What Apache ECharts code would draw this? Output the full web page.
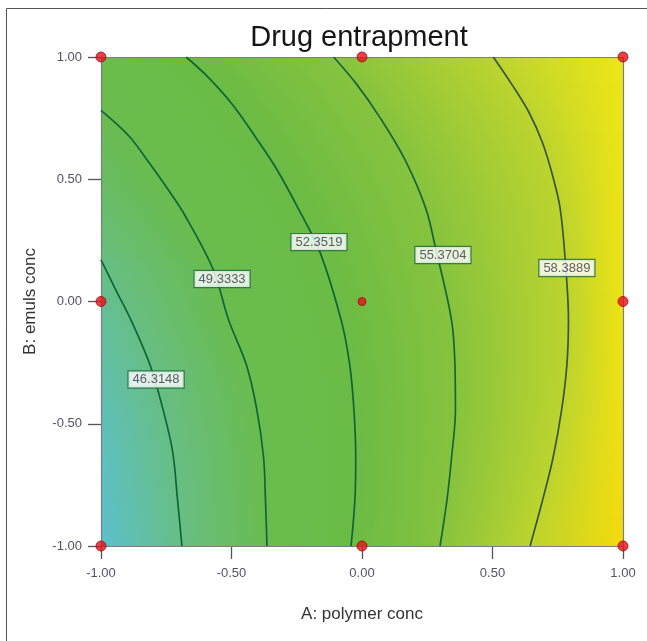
<!DOCTYPE html>
<html>
<head>
<meta charset="utf-8">
<script src="https://cdn.jsdelivr.net/npm/echarts@6/dist/echarts.min.js"></script>
<style>
  html, body { margin: 0; padding: 0; background: #ffffff; }
  #chart { width: 647px; height: 641px; }
</style>
</head>
<body>
<div id="chart"></div>
<script>
// Axis ticks (coded factor levels)
const tickValues = [-1, -0.5, 0, 0.5, 1];

// Contour levels of the drug entrapment response
const contourLevels = [46.3148, 49.3333, 52.3519, 55.3704, 58.3889];

// Contour paths as [A, B] pairs, ordered from top (high B) to bottom
const contour46 = [[-1.000, 0.170], [-0.943, 0.047], [-0.885, -0.076], [-0.812, -0.260], [-0.766, -0.427],
                   [-0.726, -0.611], [-0.707, -0.808], [-0.690, -1.000]];
const contour49 = [[-1.000, 0.782], [-0.893, 0.677], [-0.812, 0.562], [-0.747, 0.464], [-0.686, 0.366],
                   [-0.571, 0.133], [-0.511, -0.076], [-0.443, -0.259], [-0.403, -0.442], [-0.377, -0.639],
                   [-0.370, -0.808], [-0.364, -1.000]];
const contour52 = [[-0.674, 1.000], [-0.588, 0.916], [-0.495, 0.804], [-0.402, 0.663], [-0.324, 0.536],
                   [-0.245, 0.382], [-0.161, 0.202], [-0.080, -0.076], [-0.047, -0.259], [-0.031, -0.442],
                   [-0.024, -0.639], [-0.027, -0.808], [-0.042, -1.000]];
const contour55 = [[-0.109, 1.000], [-0.020, 0.888], [0.072, 0.747], [0.165, 0.579], [0.244, 0.382],
                   [0.280, 0.227], [0.343, -0.076], [0.356, -0.259], [0.358, -0.442], [0.343, -0.639],
                   [0.326, -0.808], [0.299, -1.000]];
const contour58 = [[0.503, 1.000], [0.574, 0.888], [0.639, 0.775], [0.692, 0.648], [0.732, 0.508],
                   [0.759, 0.382], [0.778, 0.178], [0.791, -0.076], [0.785, -0.259], [0.765, -0.442],
                   [0.732, -0.639], [0.693, -0.808], [0.644, -1.000]];
const contourPaths = [contour46, contour49, contour52, contour55, contour58];

// Where each contour's value tag sits
const labelPositions = [[-0.789, -0.319], [-0.536, 0.092], [-0.165, 0.243], [0.310, 0.190], [0.785, 0.137]];

// Design points of the experiment
const designPoints = [[-1, 1], [0, 1], [1, 1], [-1, 0], [0, 0], [1, 0], [-1, -1], [0, -1], [1, -1]];

// Response along the left and right plot edges
const edgeB = [1, 0.5, 0, -0.5, -1];
const leftEdgeValues = [49.9, 48.2, 45.6, 44.3, 43.6];
const rightEdgeValues = [61.0, 61.2, 61.3, 61.5, 62.0];

// Colour ramp for the response surface
const paletteValues = [43.5, 46.3148, 49.3333, 52.3519, 55.3704, 58.3889, 61.0, 62.0];
const paletteColors = ['#5cc0d0', '#67be84', '#6abc4e', '#6bbb45', '#86c33e', '#bcd42e', '#ece618', '#f4da0c'];

const FONT = "'Liberation Sans', Arial, sans-serif";

function hexToRgb(h) {
  const n = parseInt(h.slice(1), 16);
  return [(n >> 16) & 255, (n >> 8) & 255, n & 255];
}
const paletteRgb = paletteColors.map(hexToRgb);

function colorFor(v) {
  if (v <= paletteValues[0]) return paletteColors[0];
  const last = paletteValues.length - 1;
  if (v >= paletteValues[last]) return paletteColors[last];
  for (let i = 0; i < last; i++) {
    if (v >= paletteValues[i] && v <= paletteValues[i + 1]) {
      const t = (v - paletteValues[i]) / (paletteValues[i + 1] - paletteValues[i]);
      const a = paletteRgb[i], b = paletteRgb[i + 1];
      const c = a.map((x, k) => Math.round(x + (b[k] - x) * t));
      return 'rgb(' + c.join(',') + ')';
    }
  }
  return paletteColors[last];
}

// A of a contour path at a given B (null when the path does not reach that B)
function pathAAt(path, b) {
  for (let i = 0; i < path.length - 1; i++) {
    const p = path[i], q = path[i + 1];
    if (b <= p[1] && b >= q[1]) {
      const t = (p[1] - b) / (p[1] - q[1] || 1);
      return p[0] + (q[0] - p[0]) * t;
    }
  }
  return null;
}

function edgeValueAt(values, b) {
  for (let i = 0; i < edgeB.length - 1; i++) {
    if (b <= edgeB[i] && b >= edgeB[i + 1]) {
      const t = (edgeB[i] - b) / (edgeB[i] - edgeB[i + 1]);
      return values[i] + (values[i + 1] - values[i]) * t;
    }
  }
  return values[values.length - 1];
}

// Left-to-right shading of one row, passing through the contour crossings at that B
function rowGradient(b) {
  const stops = [{ offset: 0, color: colorFor(edgeValueAt(leftEdgeValues, b)) }];
  contourPaths.forEach((path, k) => {
    const a = pathAAt(path, b);
    if (a !== null && a > -1 && a < 1) {
      stops.push({ offset: (a + 1) / 2, color: colorFor(contourLevels[k]) });
    }
  });
  stops.push({ offset: 1, color: colorFor(edgeValueAt(rightEdgeValues, b)) });
  return new echarts.graphic.LinearGradient(0, 0, 1, 0, stops);
}

// Surface fill built from thin rows, plus the plot frame
function renderSurface(params, api) {
  const tl = api.coord([-1, 1]);
  const br = api.coord([1, -1]);
  const x0 = Math.round(tl[0]);
  const w = Math.round(br[0]) - x0;
  const yStart = Math.round(tl[1]);
  const yEnd = Math.round(br[1]);
  const children = [{
    type: 'rect', silent: true,
    shape: { x: x0, y: yStart, width: w, height: yEnd - yStart },
    style: { fill: rowGradient(0) }
  }];
  for (let y = yStart; y < yEnd; y += 2) {
    const bMid = 1 - 2 * ((y + 1 - yStart) / (yEnd - yStart));
    children.push({
      type: 'rect', silent: true,
      shape: { x: x0, y: y, width: w, height: Math.min(2, yEnd - y) },
      style: { fill: rowGradient(bMid) }
    });
  }
  children.push({
    type: 'rect', silent: true,
    shape: { x: x0 + 0.5, y: yStart + 0.5, width: w, height: yEnd - yStart },
    style: { fill: 'none', stroke: '#7d7d7d', lineWidth: 1.2 }
  });
  return { type: 'group', children };
}

const lineColors = ['#0f653a', '#0f653a', '#0f653a', '#17653b', '#38563c'];

const series = [{
  type: 'custom',
  renderItem: renderSurface,
  data: [[0, 0]],
  z: 1,
  silent: true,
  clip: false
}];

contourPaths.forEach((path, k) => {
  series.push({
    type: 'line',
    data: path,
    smooth: 0.35,
    showSymbol: false,
    symbol: 'none',
    lineStyle: { color: lineColors[k], width: 1.7 },
    z: 2,
    silent: true
  });
});

series.push({
  type: 'scatter',
  data: labelPositions.map((p, k) => ({ value: p, name: contourLevels[k].toFixed(4) })),
  symbol: 'rect',
  symbolSize: 1,
  itemStyle: { color: 'rgba(0,0,0,0)' },
  z: 3,
  silent: true,
  clip: false,
  label: {
    show: true,
    position: 'inside',
    formatter: (p) => p.name,
    fontFamily: FONT,
    fontSize: 13,
    color: '#3a3250',
    backgroundColor: '#ffffff',
    borderColor: '#1f6a42',
    borderWidth: 1.2,
    padding: [2, 4, 1, 4]
  }
});

series.push({
  type: 'scatter',
  data: designPoints.map(p => ({ value: p, symbolSize: (p[0] === 0 && p[1] === 0) ? 8 : 10 })),
  symbol: 'circle',
  itemStyle: { color: '#e3121b', borderColor: '#a10a0f', borderWidth: 1 },
  z: 4,
  silent: true,
  clip: false
});

const axisCommon = {
  type: 'value',
  min: tickValues[0],
  max: tickValues[tickValues.length - 1],
  interval: tickValues[1] - tickValues[0],
  nameLocation: 'middle',
  nameTextStyle: { fontFamily: FONT, fontSize: 17, color: '#333333' },
  axisLine: { show: true, onZero: false, lineStyle: { color: '#7d7d7d', width: 1 } },
  axisTick: { show: true, inside: false, length: 13, lineStyle: { color: '#555555', width: 1.3 } },
  splitLine: { show: false }
};

const chart = echarts.init(document.getElementById('chart'), null, { renderer: 'canvas' });

chart.setOption({
  animation: false,
  backgroundColor: '#ffffff',
  grid: { left: 101, right: 24, top: 57, bottom: 95 },
  xAxis: Object.assign({}, axisCommon, {
    name: 'A: polymer conc',
    nameGap: 60,
    axisLabel: { formatter: v => v.toFixed(2), fontFamily: FONT, fontSize: 13, color: '#55506a', margin: 21 }
  }),
  yAxis: Object.assign({}, axisCommon, {
    name: 'B: emuls conc',
    nameGap: 62,
    axisLabel: { formatter: v => v.toFixed(2), fontFamily: FONT, fontSize: 13, color: '#55506a', margin: 19 }
  }),
  graphic: [
    { type: 'line', shape: { x1: 6.5, y1: 8.5, x2: 647, y2: 8.5 }, style: { stroke: '#555555', lineWidth: 1 }, silent: true },
    { type: 'line', shape: { x1: 6.5, y1: 8.5, x2: 6.5, y2: 641 }, style: { stroke: '#555555', lineWidth: 1 }, silent: true },
    {
      type: 'text', x: 359, y: 38, silent: true,
      style: { text: 'Drug entrapment', fontFamily: FONT, fontSize: 29, fill: '#151515',
               textAlign: 'center', textVerticalAlign: 'middle' }
    }
  ],
  series
});
</script>
</body>
</html>
